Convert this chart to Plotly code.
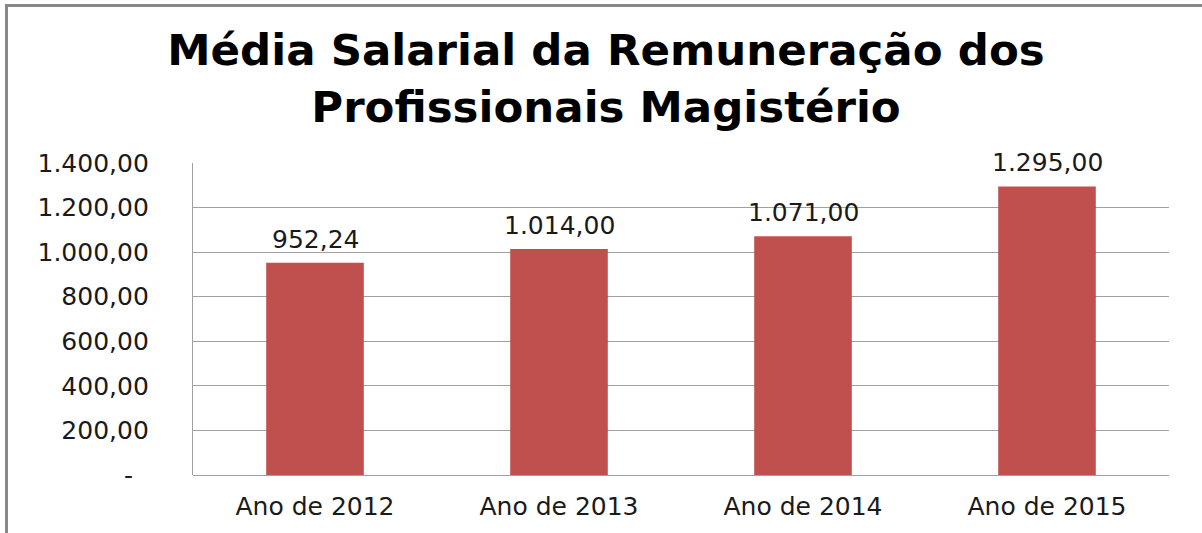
import plotly.graph_objects as go

# Average salary of teaching professionals, by year
categories = ["Ano de 2012", "Ano de 2013", "Ano de 2014", "Ano de 2015"]
salaries = [952.24, 1014.00, 1071.00, 1295.00]
y_ticks = [0, 200, 400, 600, 800, 1000, 1200, 1400]

BAR_COLOR = "#C0504D"
GRID_COLOR = "#A0A0A0"
TEXT_COLOR = "#1a1a1a"
FONT = "DejaVu Sans"
LABEL_SIZE = 25


def br_number(v):
    """Brazilian number format: 1.234,56"""
    s = f"{v:,.2f}"
    return s.replace(",", "X").replace(".", ",").replace("X", ".")


def tick_label(v):
    # zero shown as a dash, accounting style
    return "-\u00a0\u00a0" if v == 0 else br_number(v)


fig = go.Figure(
    go.Bar(
        x=categories,
        y=salaries,
        marker=dict(color=BAR_COLOR, line=dict(width=0)),
        width=0.4,
        hoverinfo="skip",
    )
)

# value labels above each bar
for cat, val in zip(categories, salaries):
    fig.add_annotation(
        x=cat, y=val, text=br_number(val),
        showarrow=False, yanchor="bottom", yshift=7,
        font=dict(family=FONT, size=LABEL_SIZE, color=TEXT_COLOR),
    )

# outer chart frame
plot_w, plot_h = 976, 312
left_m, bottom_m = 193, 58
fig.add_shape(
    type="rect", xref="paper", yref="paper",
    x0=(6.5 - left_m) / plot_w, x1=(1215 - left_m) / plot_w,
    y0=(533 - bottom_m - 545) / plot_h, y1=(533 - bottom_m - 5.5) / plot_h,
    line=dict(color="#888888", width=3), fillcolor="rgba(0,0,0,0)", layer="below",
)

fig.update_layout(
    width=1202, height=533,
    margin=dict(l=left_m, r=1202 - left_m - plot_w, t=163, b=bottom_m),
    paper_bgcolor="white", plot_bgcolor="white",
    showlegend=False,
    title=dict(
        text="Média Salarial da Remuneração dos<br>Profissionais Magistério",
        x=606 / 1202, xanchor="center",
        y=1 - 65 / 533, yanchor="middle", yref="container",
        font=dict(family=FONT, size=43.5, color="black", weight="bold"),
    ),
    xaxis=dict(
        showgrid=False, showline=False, ticks="",
        tickfont=dict(family=FONT, size=LABEL_SIZE, color=TEXT_COLOR),
        ticklabelstandoff=14,
    ),
    yaxis=dict(
        range=[0, 1400],
        tickvals=y_ticks,
        ticktext=[tick_label(v) for v in y_ticks],
        showgrid=True, gridcolor=GRID_COLOR, gridwidth=1.3,
        zeroline=True, zerolinecolor=GRID_COLOR, zerolinewidth=1.3,
        showline=True, linecolor=GRID_COLOR, linewidth=1.3,
        ticks="",
        tickfont=dict(family=FONT, size=LABEL_SIZE, color=TEXT_COLOR),
        ticklabelstandoff=38,
    ),
)

fig.write_html("out.html")
